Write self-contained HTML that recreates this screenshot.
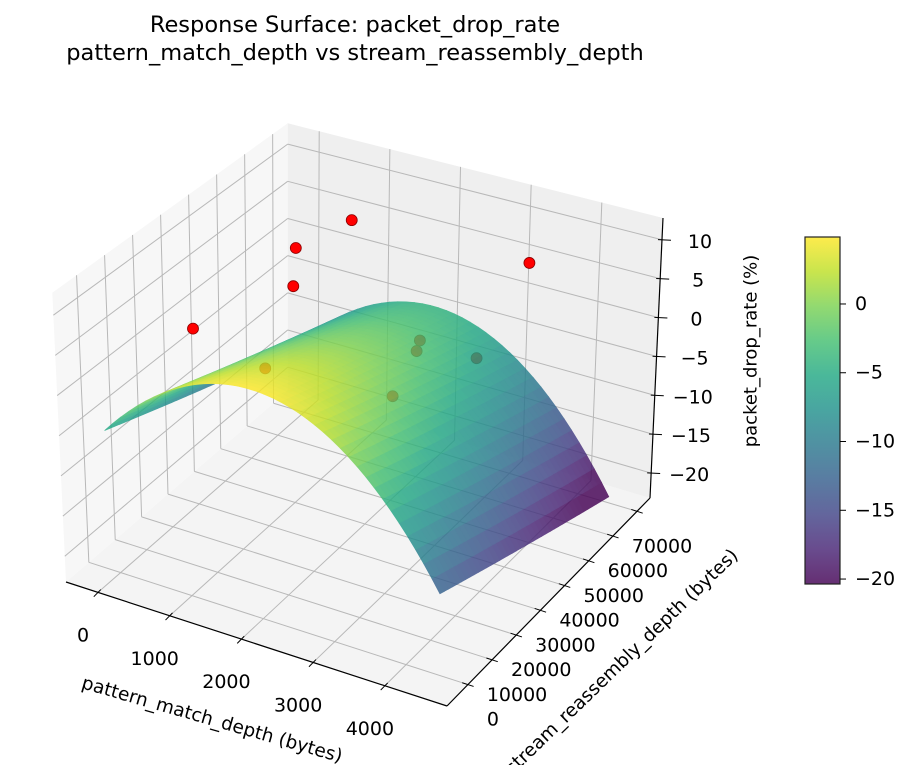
<!DOCTYPE html>
<html><head><meta charset="utf-8"><style>
html,body{margin:0;padding:0;background:#fff;}
svg{display:block;font-family:"DejaVu Sans","Liberation Sans",sans-serif;}
</style></head><body>
<svg id="chart" width="913" height="765" viewBox="0 0 913 765" xmlns="http://www.w3.org/2000/svg">
<text x="355" y="32" font-size="22.5" text-anchor="middle" fill="#000">Response Surface: packet_drop_rate</text>
<text x="355" y="60" font-size="22.5" text-anchor="middle" fill="#000">pattern_match_depth vs stream_reassembly_depth</text>
<g id="panes"></g><g id="grid"></g><g id="axes"></g><g id="hiddenPts"></g><g id="surf" opacity="0.82"></g><g id="visPts"></g><g id="cbar"></g>
</svg>
<script>
// ---- data ----
const xTicks = [0, 1000, 2000, 3000, 4000];
const yTicks = [0, 10000, 20000, 30000, 40000, 50000, 60000, 70000];
const zTicks = [-20, -15, -10, -5, 0, 5, 10];
const cbTicks = [0, -5, -10, -15, -20];
const obsX = [1414, 1000, 1065, 319, 3436, 903, 2099, 2110, 2652, 2597];
const obsY = [50360, 40700, 37960, 20760, 63220, 31620, 58180, 56660, 65320, 33890];
const obsZ = [11.4, 9.4, 5.4, 2.7, 7.2, -3.8, -4.7, -5.6, -7.7, -3.5];
const surfX = [-150, 4450];
const surfY = [0, 70000];
const surfCoef = [4.87, -2.676e-6, -1.314e-4]; // peak, x-curvature, y-slope
const surfPeakX = [1850];
const cbRange = [-20.36, 4.87];
// ---- axes geometry ----
const XR=[-446,4866], YR=[-8655,75375], ZR=[-23.2,12.8];
const C={"000":[66,582],"100":[447,706],"010":[287.7,391],"110":[650,498],
"001":[52.3,292.7],"101":[454,411],"011":[287.7,123.3],"111":[663,218]};
function P(x,y,z){
 const u=(x-XR[0])/(XR[1]-XR[0]), v=(y-YR[0])/(YR[1]-YR[0]), w=(z-ZR[0])/(ZR[1]-ZR[0]);
 let sx=0,sy=0;
 for(const k in C){const a=k[0]==='1'?u:1-u,b=k[1]==='1'?v:1-v,c=k[2]==='1'?w:1-w;const wt=a*b*c;sx+=wt*C[k][0];sy+=wt*C[k][1];}
 return [sx,sy];
}
function depth(x,y,z){const u=(x-XR[0])/(XR[1]-XR[0]), v=(y-YR[0])/(YR[1]-YR[0]), w=(z-ZR[0])/(ZR[1]-ZR[0]);return 0.433*u*4-0.75*v*4+0.5*w*3;}
function surfZ(x,y){return surfCoef[0]+surfCoef[1]*(x-surfPeakX[0])*(x-surfPeakX[0])+surfCoef[2]*y;}
const VS=[[68,1,84],[72,36,117],[65,68,135],[53,95,141],[42,120,142],[33,145,140],[34,168,132],[68,191,112],[122,209,81],[189,223,38],[253,231,37]];
function viridis(t){t=Math.max(0,Math.min(1,t))*10;const i=Math.min(9,Math.floor(t)),f=t-i;const a=VS[i],b=VS[i+1];
 return 'rgb('+a.map((c,j)=>Math.round(c+(b[j]-c)*f)).join(',')+')';}
const NS='http://www.w3.org/2000/svg';
function mk(tag,attrs,parent){const e=document.createElementNS(NS,tag);for(const k in attrs)e.setAttribute(k,attrs[k]);parent.appendChild(e);return e;}
function pts(a){return a.map(p=>p[0].toFixed(2)+','+p[1].toFixed(2)).join(' ');}
const panes=document.getElementById('panes'),grid=document.getElementById('grid'),axes=document.getElementById('axes');
let e;
e=mk('polygon',{points:pts([C["000"],C["100"],C["110"],C["010"]]),fill:'#f4f4f4'},panes);


e=mk('polygon',{points:pts([C["000"],C["010"],C["011"],C["001"]]),fill:'#f7f7f7'},panes);


e=mk('polygon',{points:pts([C["010"],C["110"],C["111"],C["011"]]),fill:'#efefef'},panes);


function gl(a,b){const l=mk('line',{x1:a[0],y1:a[1],x2:b[0],y2:b[1],stroke:'#b8b8b8','stroke-width':1},grid);

}
xTicks.forEach(x=>{gl(P(x,YR[0],ZR[0]),P(x,YR[1],ZR[0]));gl(P(x,YR[1],ZR[0]),P(x,YR[1],ZR[1]));});
yTicks.forEach(y=>{gl(P(XR[0],y,ZR[0]),P(XR[1],y,ZR[0]));gl(P(XR[0],y,ZR[0]),P(XR[0],y,ZR[1]));});
zTicks.forEach(z=>{gl(P(XR[0],YR[0],z),P(XR[0],YR[1],z));gl(P(XR[0],YR[1],z),P(XR[1],YR[1],z));});
function al(a,b,name){const l=mk('line',{x1:a[0],y1:a[1],x2:b[0],y2:b[1],stroke:'#000','stroke-width':1.2},axes);

}
al(C["000"],C["100"],'x-axis-line');al(C["100"],C["110"],'y-axis-line');al(C["110"],C["111"],'z-axis-line');
function tk(p,dx,dy,a,b){const l=mk('line',{x1:p[0]-dx*a,y1:p[1]-dy*a,x2:p[0]+dx*b,y2:p[1]+dy*b,stroke:'#000','stroke-width':1},axes);

}
function lbl(x,y,s,name,anchor){const t=mk('text',{x:x,y:y,'font-size':19,'text-anchor':anchor||'middle','dominant-baseline':'central',fill:'#000'},axes);t.textContent=s;

return t;}
const fmt=v=>String(v).replace('-','\u2212');
xTicks.forEach(x=>{const p=P(x,YR[0],ZR[0]);tk(p,0.7,-0.717,6,4);lbl(p[0]-15,p[1]+43,fmt(x),'x-tick-label');});
yTicks.forEach(y=>{const p=P(XR[1],y,ZR[0]);tk(p,0.95,0.31,6,6);lbl(p[0]+25,p[1]+35,fmt(y),'y-tick-label');});
zTicks.forEach(z=>{const p=P(XR[1],YR[1],z);tk(p,1,0.05,4,9);lbl(p[0]+38,p[1]+2,fmt(z),'z-tick-label');});
let t;
t=mk('text',{x:0,y:0,'font-size':18.5,'text-anchor':'middle','dominant-baseline':'central',transform:'translate(212,720) rotate(16)'},axes);t.textContent='pattern_match_depth (bytes)';


t=mk('text',{x:0,y:0,'font-size':18.5,'text-anchor':'middle','dominant-baseline':'central',transform:'translate(622,662) rotate(-44)'},axes);t.textContent='stream_reassembly_depth (bytes)';


t=mk('text',{x:0,y:0,'font-size':18,'text-anchor':'middle','dominant-baseline':'central',transform:'translate(751,351) rotate(-90)'},axes);t.textContent='packet_drop_rate (%)';


const N=40,quads=[];
for(let i=0;i<N;i++)for(let j=0;j<N;j++){
 const x0=surfX[0]+(surfX[1]-surfX[0])*i/N,x1=surfX[0]+(surfX[1]-surfX[0])*(i+1)/N;
 const y0=surfY[0]+(surfY[1]-surfY[0])*j/N,y1=surfY[0]+(surfY[1]-surfY[0])*(j+1)/N;
 const c=[[x0,y0],[x1,y0],[x1,y1],[x0,y1]].map(q=>[q[0],q[1],surfZ(q[0],q[1])]);
 const zm=(c[0][2]+c[1][2]+c[2][2]+c[3][2])/4;
 quads.push({c:c,zm:zm,d:depth((x0+x1)/2,(y0+y1)/2,zm)});
}
quads.sort((a,b)=>a.d-b.d);
const surf=document.getElementById('surf');
quads.forEach(q=>{const col=viridis((q.zm-cbRange[0])/(cbRange[1]-cbRange[0]));
 const p=mk('polygon',{points:pts(q.c.map(v=>P(v[0],v[1],v[2]))),fill:col,stroke:col,'stroke-width':0.7},surf);
 
 });
const hid=document.getElementById('hiddenPts'),vis=document.getElementById('visPts');
obsX.forEach((x,i)=>{const y=obsY[i],z=obsZ[i];const p=P(x,y,z);const below=z<surfZ(x,y);
 const c=mk('circle',{cx:p[0],cy:p[1],r:5.5,fill:'#ff0000',stroke:'#8b0000','stroke-width':0.8},below?hid:vis);
 
 });
const cb=document.getElementById('cbar');
const defs=mk('defs',{},cb);const lg=mk('linearGradient',{id:'vg',x1:0,y1:1,x2:0,y2:0},defs);
VS.forEach((v,i)=>mk('stop',{offset:(i/10),'stop-color':'rgb('+v.join(',')+')'},lg));
const cbTop=237,cbBot=584;
e=mk('rect',{x:805,y:cbTop,width:35,height:cbBot-cbTop,fill:'url(#vg)','fill-opacity':0.82,stroke:'#222','stroke-width':1.2},cb);


cbTicks.forEach(v=>{const y=cbBot-(v-cbRange[0])/(cbRange[1]-cbRange[0])*(cbBot-cbTop);
 const l=mk('line',{x1:840,y1:y,x2:846,y2:y,stroke:'#000','stroke-width':1},cb);
 
 
 const tt=mk('text',{x:855,y:y,'font-size':19,'dominant-baseline':'central',fill:'#000'},cb);tt.textContent=fmt(v);
 
 });
</script>
</body></html>
